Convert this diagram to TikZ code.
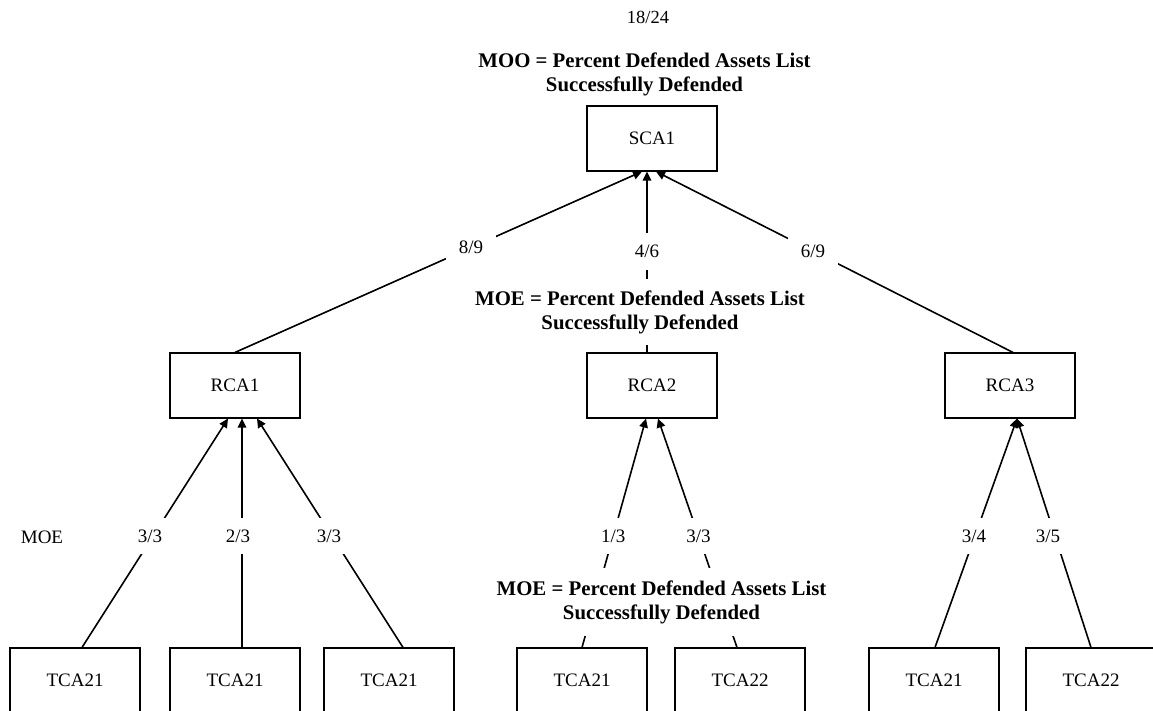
\documentclass[tikz,border=0pt]{standalone}
\usepackage{fontspec}
\setmainfont{Liberation Serif}
\usetikzlibrary{arrows.meta}
\newcommand\mynorm{\fontsize{19}{23}\selectfont}
\newcommand\mybold{\fontsize{20.8}{24}\selectfont\bfseries}
\tikzset{
  box/.style={draw, line width=1.1pt, minimum width=130pt, minimum height=65pt, inner sep=0pt, font=\mynorm},
  conn/.style={line width=1.6pt, -{Triangle[length=9pt,width=8.5pt]}},
  lbl/.style={fill=white, font=\mynorm, inner xsep=13pt, inner ysep=12pt},
  heading/.style={align=center, font=\mybold, inner sep=0pt},
  plain/.style={font=\mynorm, inner sep=0pt}
}
\begin{document}
\begin{tikzpicture}[x=1pt,y=-1pt]
\useasboundingbox (0,0) rectangle (1153,711);
\clip (0,0) rectangle (1153,711);
\fill[white] (0,0) rectangle (1153,711);

% page number and top heading
\node[plain, font=\fontsize{18.5}{22}\selectfont] (pg) at (648,17) {18/24};
\node[heading] (moo) at (644.5,74) {MOO = Percent Defended Assets List\\Successfully Defended};

% boxes
\node[box] (sca) at (652,138.5) {SCA1};
\node[box] (rca1) at (235,385.5) {RCA1};
\node[box] (rca2) at (652,385.5) {RCA2};
\node[box] (rca3) at (1010,385.5) {RCA3};
\node[box] (t1) at (75,680.5) {TCA21};
\node[box] (t2) at (235,680.5) {TCA21};
\node[box] (t3) at (389,680.5) {TCA21};
\node[box] (t4) at (582,680.5) {TCA21};
\node[box] (t5) at (740,680.5) {TCA22};
\node[box] (t6) at (934,680.5) {TCA21};
\node[box] (t7) at (1091,680.5) {TCA22};

% top level connectors
\draw[conn] (rca1.north) -- node[lbl, pos=0.58]{8/9} ([xshift=-10pt]sca.south);
\draw[conn] ([xshift=-5pt]rca2.north) -- node[lbl, pos=0.56]{4/6} ([xshift=-5pt]sca.south);
\draw[conn] ([xshift=3pt]rca3.north) -- node[lbl, pos=0.56]{6/9} ([xshift=4pt]sca.south);

% lower level connectors
\draw[conn] ([xshift=7pt]t1.north) -- node[lbl, pos=0.487, xshift=-3pt]{3/3} ([xshift=-7pt]rca1.south);
\draw[conn] ([xshift=7pt]t2.north) -- node[lbl, pos=0.487, xshift=-4pt]{2/3} ([xshift=7pt]rca1.south);
\draw[conn] ([xshift=14pt]t3.north) -- node[lbl, pos=0.487, xshift=-3pt]{3/3} ([xshift=22pt]rca1.south);
\draw[conn] (t4.north) -- node[lbl, pos=0.487]{1/3} ([xshift=-6pt]rca2.south);
\draw[conn] ([xshift=-3pt]t5.north) -- node[lbl, pos=0.487]{3/3} ([xshift=6pt]rca2.south);
\draw[conn] ([xshift=1pt]t6.north) -- node[lbl, pos=0.487, xshift=-1pt]{3/4} ([xshift=7pt]rca3.south);
\draw[conn] (t7.north) -- node[lbl, pos=0.487, xshift=-7pt]{3/5} ([xshift=7pt]rca3.south);

% MOE headings over the connectors
\node[heading, fill=white, inner xsep=4pt, inner ysep=11pt] (moe1) at (640,312) {MOE = Percent Defended Assets List\\Successfully Defended};
\node[heading, fill=white, inner xsep=4pt, inner ysep=12pt] (moe2) at (661.5,602) {MOE = Percent Defended Assets List\\Successfully Defended};
\node[plain] (moe0) at (42,537) {MOE};
\end{tikzpicture}
\end{document}
